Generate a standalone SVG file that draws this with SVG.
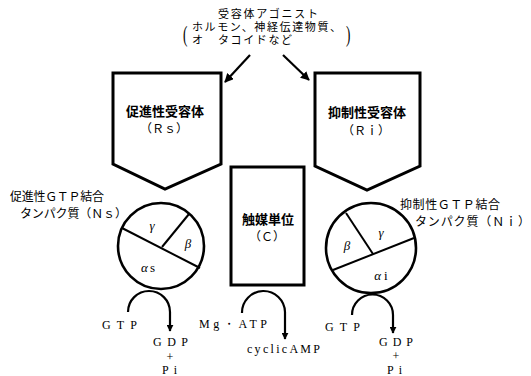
<svg xmlns="http://www.w3.org/2000/svg" width="531" height="376" viewBox="0 0 531 376">
  <defs>
    <marker id="head" viewBox="0 0 10 10" refX="9" refY="5" markerWidth="9" markerHeight="9" markerUnits="userSpaceOnUse" orient="auto">
      <path d="M0,0 L10,5 L0,10 Z" fill="#000"/>
    </marker>
    <marker id="head-s" viewBox="0 0 10 10" refX="9" refY="5" markerWidth="7" markerHeight="7" markerUnits="userSpaceOnUse" orient="auto">
      <path d="M0,0 L10,5 L0,10 Z" fill="#000"/>
    </marker>
  </defs>
  <style>
    .jp { font-family: "Noto Sans CJK JP", "Noto Sans CJK SC", sans-serif; font-size: 12px; fill: #000; }
    .jps { font-family: "Noto Sans CJK JP", "Noto Sans CJK SC", sans-serif; font-size: 11px; fill: #000; }
    .jpb { font-family: "Noto Sans CJK JP", "Noto Sans CJK SC", sans-serif; font-size: 13px; font-weight: bold; fill: #000; }
    .lat { font-family: "Liberation Serif", serif; font-size: 12px; fill: #000; }
    .paren { font-family: "Liberation Serif", serif; font-size: 24px; fill: #000; }
    .gr { font-family: "Liberation Serif", serif; font-size: 13px; font-style: italic; fill: #000; }
    .box { fill: #fff; stroke: #000; stroke-width: 3; stroke-linejoin: miter; }
    .ring { fill: #fff; stroke: #000; stroke-width: 2.6; }
    .div { fill: none; stroke: #000; stroke-width: 2; }
    .arr { fill: none; stroke: #000; stroke-width: 2.2; }
  </style>
  <rect width="531" height="376" fill="#fff"/>

  <!-- agonist heading -->
  <g id="agonist">
    <text class="jps" x="268" y="18" text-anchor="middle" textLength="100" lengthAdjust="spacing">受容体アゴニスト</text>
    <text class="paren" transform="translate(183,42) scale(0.55,1)">(</text>
    <text class="jps" x="192" y="31" textLength="149" lengthAdjust="spacing">ホルモン、神経伝達物質、</text>
    <text class="jps" x="192" y="44">オ</text>
    <text class="jps" x="218" y="44" textLength="74" lengthAdjust="spacing">タコイドなど</text>
    <text class="paren" transform="translate(346,42) scale(0.55,1)">)</text>
  </g>

  <!-- stimulatory receptor -->
  <g id="Rs">
    <path class="box" d="M113,73 L221,73 L221,164 L165,189 L113,164 Z"/>
    <text class="jpb" x="165" y="116" text-anchor="middle">促進性受容体</text>
    <text class="jp" x="164" y="133" text-anchor="middle">（Ｒｓ）</text>
  </g>

  <!-- inhibitory receptor -->
  <g id="Ri">
    <path class="box" d="M315,73 L420,73 L420,166 L367,190 L315,166 Z"/>
    <text class="jpb" x="367" y="117" text-anchor="middle">抑制性受容体</text>
    <text class="jp" x="366" y="135" text-anchor="middle">（Ｒｉ）</text>
  </g>

  <!-- catalytic unit -->
  <g id="C">
    <rect class="box" x="231" y="167" width="73" height="118"/>
    <text class="jpb" x="268" y="224" text-anchor="middle">触媒単位</text>
    <text class="jp" x="267" y="241" text-anchor="middle">（Ｃ）</text>
  </g>

  <!-- stimulatory G protein -->
  <g id="Ns">
    <text class="jp" x="10" y="201" textLength="94" lengthAdjust="spacing">促進性ＧＴＰ結合</text>
    <text class="jp" x="20" y="218" textLength="107" lengthAdjust="spacing">タンパク質（Ｎｓ）</text>
    <circle class="ring" cx="161" cy="246" r="43"/>
    <line class="div" x1="122" y1="228" x2="200" y2="268"/>
    <line class="div" x1="162" y1="247" x2="189" y2="214"/>
    <text class="gr" x="152" y="230" text-anchor="middle">γ</text>
    <text class="gr" x="188" y="248" text-anchor="middle">β</text>
    <text class="gr" x="148" y="272" text-anchor="middle">α<tspan font-style="normal" dx="2">s</tspan></text>
  </g>

  <!-- inhibitory G protein -->
  <g id="Ni">
    <text class="jp" x="400" y="209" textLength="100" lengthAdjust="spacing">抑制性ＧＴＰ結合</text>
    <text class="jp" x="415" y="226" textLength="115" lengthAdjust="spacing">タンパク質（Ｎｉ）</text>
    <circle class="ring" cx="371" cy="248" r="45"/>
    <line class="div" x1="333" y1="270" x2="414" y2="238"/>
    <line class="div" x1="346" y1="213" x2="373" y2="254"/>
    <text class="gr" x="347" y="250" text-anchor="middle">β</text>
    <text class="gr" x="381" y="237" text-anchor="middle">γ</text>
    <text class="gr" x="381" y="280" text-anchor="middle">α<tspan font-style="normal" dx="3">i</tspan></text>
  </g>

  <!-- connectors -->
  <g id="connectors">
    <line class="arr" x1="250" y1="55" x2="225" y2="82" marker-end="url(#head)"/>
    <line class="arr" x1="283" y1="55" x2="309" y2="80" marker-end="url(#head)"/>
    <path class="arr" d="M128,312 A21,21 0 0 1 170,312 L170,331" marker-end="url(#head-s)"/>
    <path class="arr" d="M242,313 A21.5,21.5 0 0 1 285,312 L285,339" marker-end="url(#head-s)"/>
    <path class="arr" d="M352,315 A20.5,20.5 0 0 1 393,315 L393,333" marker-end="url(#head-s)"/>
  </g>

  <!-- substrates and products -->
  <g id="reactions">
    <text class="lat" x="102" y="329" textLength="35" lengthAdjust="spacing">GTP</text>
    <text class="lat" x="153" y="346" textLength="35" lengthAdjust="spacing">GDP</text>
    <text class="lat" x="170" y="361" text-anchor="middle">+</text>
    <text class="lat" x="162" y="374" textLength="15" lengthAdjust="spacing">Pi</text>
    <text class="lat" x="199" y="328" textLength="68" lengthAdjust="spacing">Mg・ATP</text>
    <text class="lat" x="247" y="353" textLength="73" lengthAdjust="spacing">cyclicAMP</text>
    <text class="lat" x="325" y="331" textLength="35" lengthAdjust="spacing">GTP</text>
    <text class="lat" x="379" y="346" textLength="34" lengthAdjust="spacing">GDP</text>
    <text class="lat" x="396" y="360" text-anchor="middle">+</text>
    <text class="lat" x="387" y="374" textLength="15" lengthAdjust="spacing">Pi</text>
  </g>
</svg>
